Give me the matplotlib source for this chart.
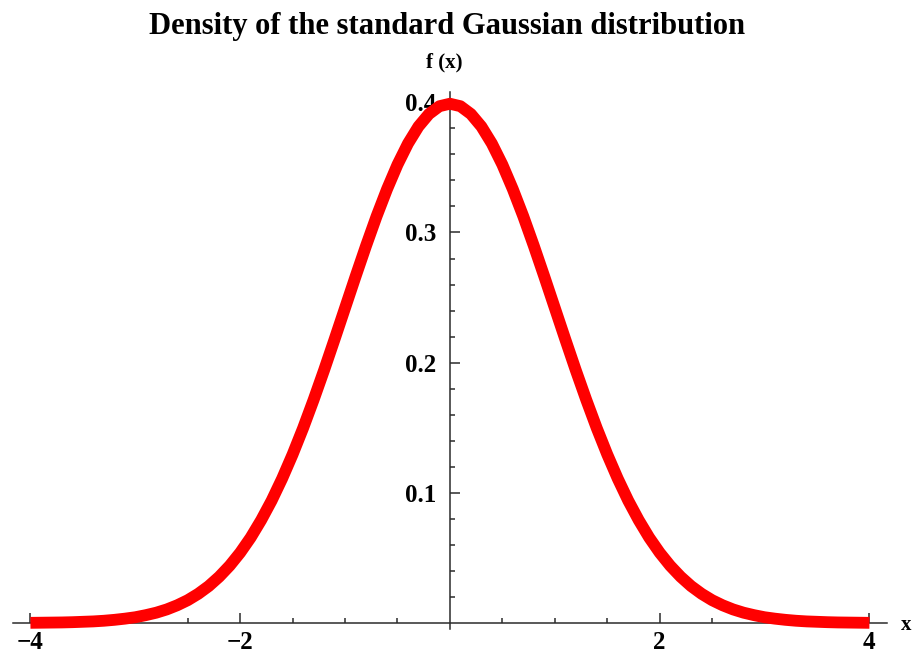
import numpy as np
import matplotlib.pyplot as plt
from matplotlib.ticker import FixedLocator

# values, step 0.1 from -4 to 4
x_vals = [round(-4 + 0.1 * i, 1) for i in range(81)]
density = [
    0.0001, 0.0002, 0.0003, 0.0004, 0.0006, 0.0009, 0.0012, 0.0017, 0.0024, 0.0033,
    0.0044, 0.0060, 0.0079, 0.0104, 0.0136, 0.0175, 0.0224, 0.0283, 0.0355, 0.0440,
    0.0540, 0.0656, 0.0790, 0.0940, 0.1109, 0.1295, 0.1497, 0.1714, 0.1942, 0.2179,
    0.2420, 0.2661, 0.2897, 0.3123, 0.3332, 0.3521, 0.3683, 0.3814, 0.3910, 0.3970,
    0.3989,
    0.3970, 0.3910, 0.3814, 0.3683, 0.3521, 0.3332, 0.3123, 0.2897, 0.2661, 0.2420,
    0.2179, 0.1942, 0.1714, 0.1497, 0.1295, 0.1109, 0.0940, 0.0790, 0.0656, 0.0540,
    0.0440, 0.0355, 0.0283, 0.0224, 0.0175, 0.0136, 0.0104, 0.0079, 0.0060, 0.0044,
    0.0033, 0.0024, 0.0017, 0.0012, 0.0009, 0.0006, 0.0004, 0.0003, 0.0002, 0.0001,
]
x_major = [-4, -2, 2, 4]
x_minor = [-3.5, -3, -2.5, -1.5, -1, -0.5, 0.5, 1, 1.5, 2.5, 3, 3.5]
y_major = [0.1, 0.2, 0.3, 0.4]
y_minor = [0.02, 0.04, 0.06, 0.08, 0.12, 0.14, 0.16, 0.18, 0.22, 0.24, 0.26,
           0.28, 0.32, 0.34, 0.36, 0.38]

serif = 'Liberation Serif'

fig = plt.figure(figsize=(9.13, 6.54), dpi=100)
ax = fig.add_axes([0.0138, 0.0375, 0.958, 0.822])

ax.plot(x_vals, density, color='#ff0000', lw=8.5, solid_capstyle='butt',
        solid_joinstyle='round', zorder=3)

ax.set_xlim(-4.17, 4.17)
ax.set_ylim(-0.005, 0.408)

for side in ['top', 'right']:
    ax.spines[side].set_visible(False)
for side in ['left', 'bottom']:
    ax.spines[side].set_position(('data', 0))
    ax.spines[side].set_color('#2b2b2b')
    ax.spines[side].set_linewidth(1.1)

ax.xaxis.set_major_locator(FixedLocator(x_major))
ax.xaxis.set_minor_locator(FixedLocator(x_minor))
ax.yaxis.set_major_locator(FixedLocator(y_major))
ax.yaxis.set_minor_locator(FixedLocator(y_minor))
ax.set_xticklabels(['\u22124', '\u22122', '2', '4'])
ax.set_yticklabels(['0.1', '0.2', '0.3', '0.4'])

ax.tick_params(which='both', direction='in', color='#2b2b2b', width=1.1)
ax.tick_params(which='major', length=7)
ax.tick_params(which='minor', length=3.5)
ax.tick_params(axis='x', which='major', pad=6)
ax.tick_params(axis='y', which='major', pad=10)
for lab in ax.get_xticklabels() + ax.get_yticklabels():
    lab.set_fontfamily(serif)
    lab.set_fontweight('bold')
    lab.set_fontsize(18)

fig.text(0.490, 0.960, 'Density of the standard Gaussian distribution',
         ha='center', va='center', fontfamily=serif, fontweight='bold', fontsize=22)
fig.text(0.487, 0.905, 'f (x)', ha='center', va='center',
         fontfamily=serif, fontweight='bold', fontsize=15)
fig.text(0.998, 0.045, 'x', ha='right', va='center',
         fontfamily=serif, fontweight='bold', fontsize=15)

fig.savefig('out.png', dpi=100)
